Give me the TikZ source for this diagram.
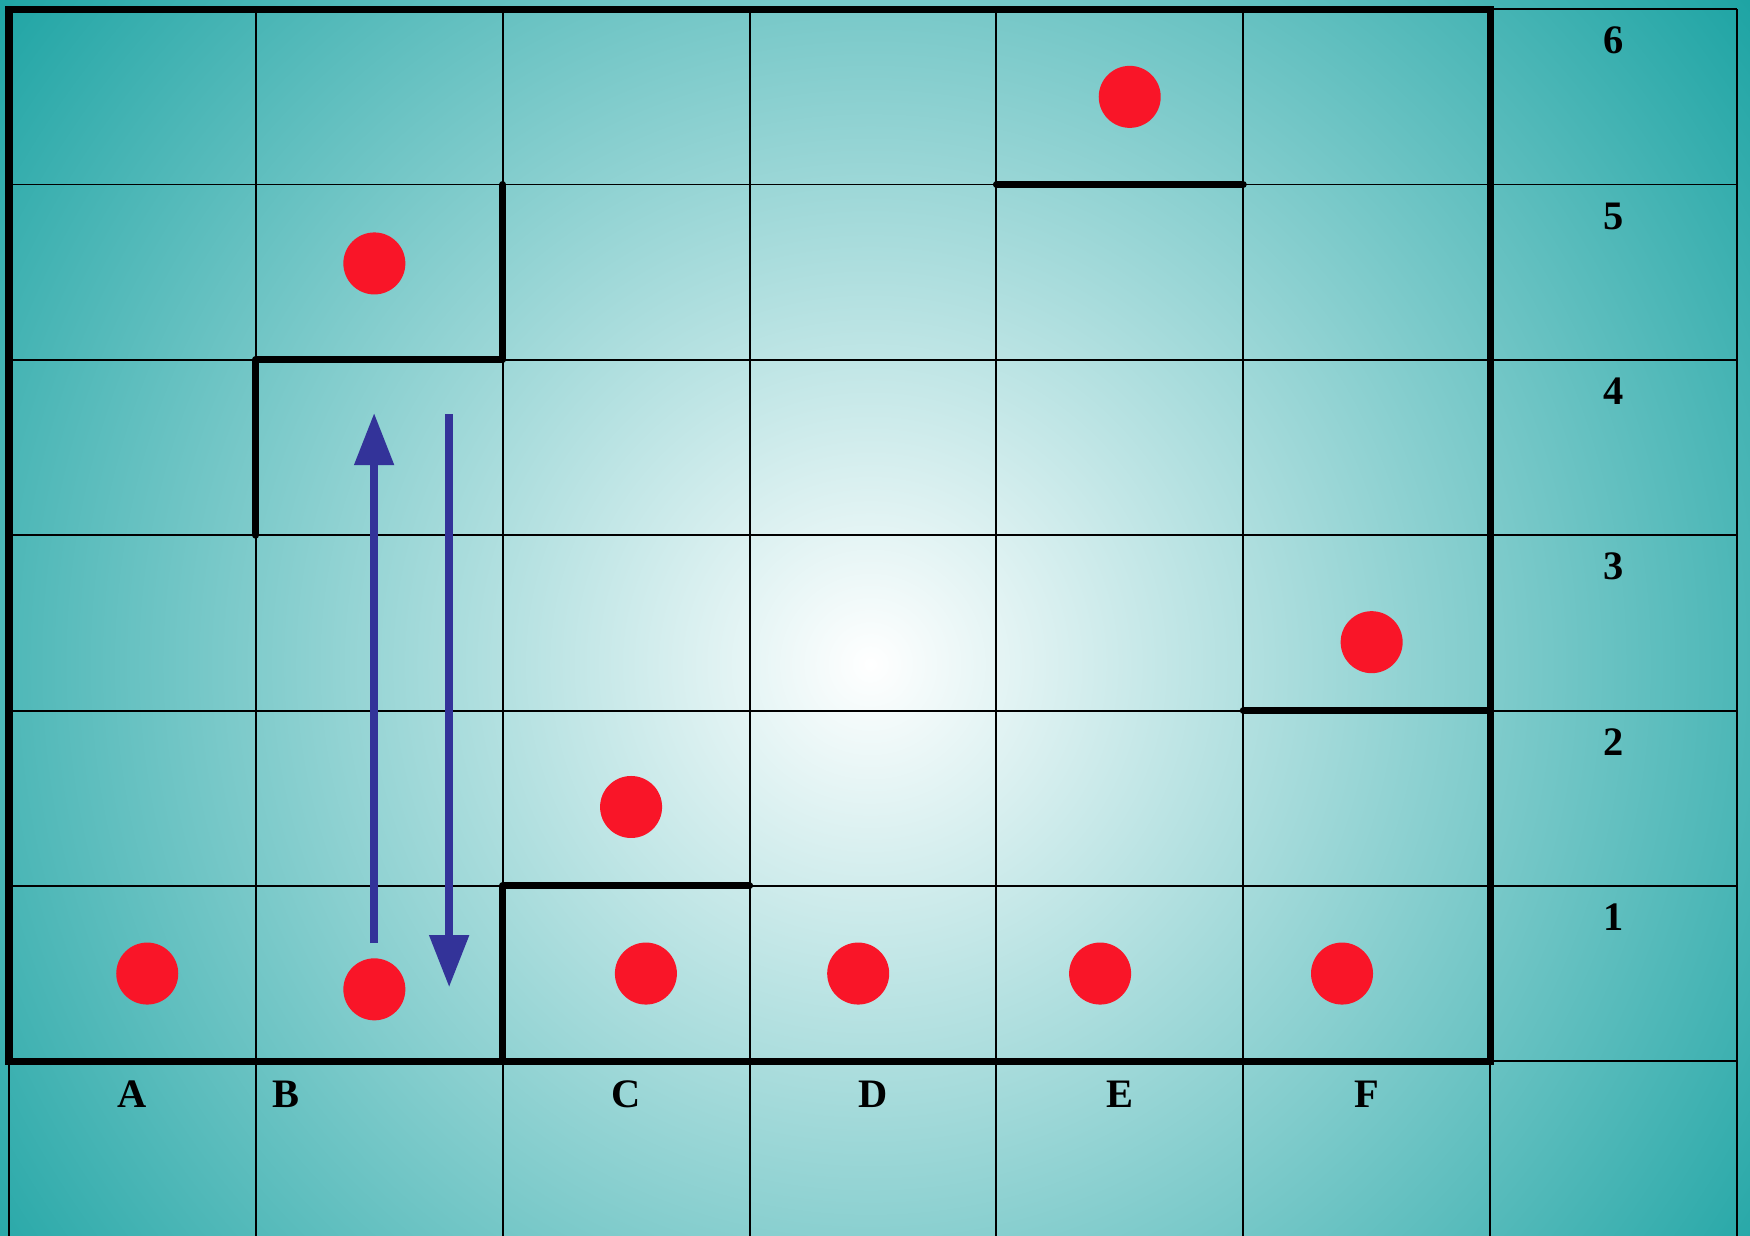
\documentclass[tikz,border=0pt]{standalone}
\usepackage{fontspec}
\setmainfont{Liberation Serif}
\usetikzlibrary{arrows.meta}
\definecolor{boardteal}{RGB}{30,164,164}
\definecolor{stonered}{RGB}{249,21,40}
\definecolor{moveblue}{RGB}{51,51,153}
\tikzset{
  gridline/.style={draw=black, line width=1.1pt},
  border/.style  ={draw=black, line width=4pt},
  wall/.style    ={draw=black, line width=4pt, line cap=round, line join=round},
  stone/.style   ={circle, fill=stonered, minimum size=1.24cm, inner sep=0pt},
  move/.style    ={draw=moveblue, line width=4.5pt, -{Triangle[length=1.04cm, width=0.76cm]}},
  lbl/.style     ={font=\fontsize{23}{27}\selectfont\bfseries, inner sep=0pt},
}

\begin{document}
\begin{tikzpicture}[x=4.936cm, y=3.506cm]
  \useasboundingbox (-0.0365,-0.9926) rectangle (7.0527,6.0525);
  \clip (-0.0365,-0.9926) rectangle (7.0527,6.0525);
  % background glow
  \coordinate (glow) at (3.489,2.265);
  \shade[inner color=white, outer color=boardteal]
    ([shift={(-22cm,-22cm)}]glow) rectangle ([shift={(22cm,22cm)}]glow);
  % grid
  \foreach \x in {0,...,7}
    \draw[gridline] (\x,-1.1) -- (\x,6);
  \foreach \y in {0,...,6}
    \draw[gridline] (0,\y) -- (7,\y);
  % board edge and walls
  \draw[border] (0,0) rectangle (6,6);
  \draw[wall] (2,5) -- (2,4) -- (1,4) -- (1,3);
  \draw[wall] (4,5) -- (5,5);
  \draw[wall] (5,2) -- (6,2);
  \draw[wall] (2,0) -- (2,1) -- (3,1);
  % stones
  \foreach \i/\p in {1/{4.54,5.5}, 2/{1.48,4.55}, 3/{5.52,2.39}, 4/{2.52,1.45},
                     5/{0.56,0.5}, 6/{1.48,0.41}, 7/{2.58,0.5}, 8/{3.44,0.5},
                     9/{4.42,0.5}, 10/{5.4,0.5}}
    \node[stone] (s\i) at (\p) {};
  % moves
  \coordinate (upS)   at (1.479,0.673);
  \coordinate (upE)   at (1.479,3.697);
  \coordinate (downS) at (1.783,3.691);
  \coordinate (downE) at (1.783,0.422);
  \draw[move] (upS) -- (upE);
  \draw[move] (downS) -- (downE);
  % labels
  \foreach \c/\x in {A/0.5, B/1.12, C/2.5, D/3.5, E/4.5, F/5.5}
    \node[lbl] (col\c) at (\x,-0.19) {\c};
  \foreach \r in {1,...,6}
    \node[lbl] (row\r) at (6.5,\r-0.18) {\r};
\end{tikzpicture}
\end{document}
